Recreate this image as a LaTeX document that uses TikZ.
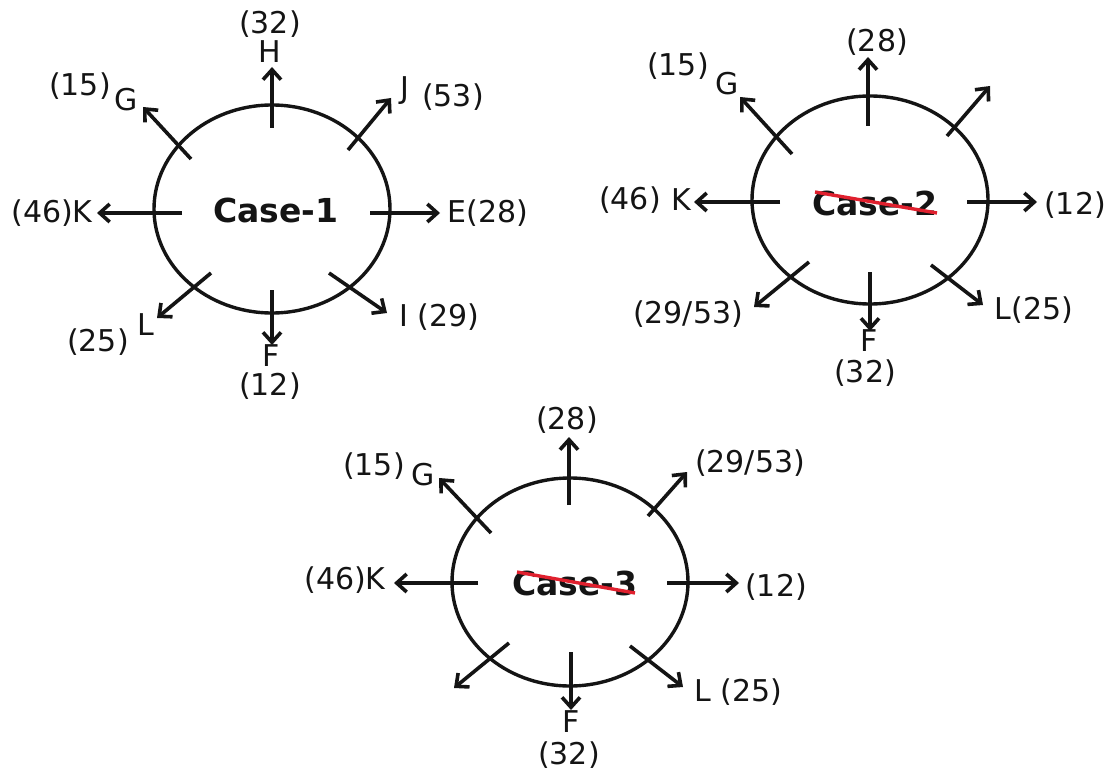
\documentclass[tikz,border=0pt]{standalone}
\usepackage{fontspec}
\setmainfont{DejaVu Sans}
\usetikzlibrary{arrows.meta,shapes.geometric}
\definecolor{ink}{HTML}{141414}
\definecolor{strike}{HTML}{E0202E}
\tikzset{
  ring/.style={draw=ink, line width=3.4pt, ellipse, inner sep=0pt, minimum width=236pt, minimum height=208pt},
  ray/.style={draw=ink, line width=3.6pt, -{Straight Barb[length=10pt,width=18pt]}},
  lbl/.style={text=ink, font=\fontsize{30}{35}\selectfont, inner sep=0pt},
  casetxt/.style={text=ink, font=\fontsize{33}{38}\selectfont\bfseries, inner sep=0pt},
  cross/.style={draw=strike, line width=3.4pt},
}
\begin{document}
\begin{tikzpicture}[x=1pt,y=-1pt]
\useasboundingbox (0,0) rectangle (1115,770);

% ---------------- Case 1 ----------------
\node[ring] (c1) at (272,209) {};
\node[casetxt] (c1t) at (276,210) {Case-1};
\coordinate (a1Gs) at (191,159); \coordinate (a1Ge) at (143,107);
\coordinate (a1Hs) at (272,128); \coordinate (a1He) at (272,67);
\coordinate (a1Js) at (348,150); \coordinate (a1Je) at (391,98);
\coordinate (a1Ks) at (182,213); \coordinate (a1Ke) at (97,213);
\coordinate (a1Es) at (370,213); \coordinate (a1Ee) at (440,213);
\coordinate (a1Ls) at (211,273); \coordinate (a1Le) at (157,318);
\coordinate (a1Fs) at (272,290); \coordinate (a1Fe) at (272,345);
\coordinate (a1Is) at (329,273); \coordinate (a1Ie) at (387,313);
\foreach \k in {G,H,J,K,E,L,F,I} \draw[ray] (a1\k s) -- (a1\k e);
\node[lbl] (l1H1) at (270,24) {(32)};
\node[lbl] (l1H2) at (270,52) {H};
\node[lbl] (l1G1) at (80,86) {(15)};
\node[lbl] (l1G2) at (126,100) {G};
\node[lbl] (l1J1) at (405,91) {J};
\node[lbl] (l1J2) at (453,97) {(53)};
\node[lbl] (l1K) at (52,213) {(46)K};
\node[lbl] (l1E) at (488,213) {E(28)};
\node[lbl] (l1L1) at (98,342) {(25)};
\node[lbl] (l1L2) at (146,325) {L};
\node[lbl] (l1F1) at (271,356) {F};
\node[lbl] (l1F2) at (270,386) {(12)};
\node[lbl] (l1I) at (439,317) {I (29)};

% ---------------- Case 2 ----------------
\node[ring] (c2) at (870,200) {};
\node[casetxt] (c2t) at (875,203) {Case-2};
\coordinate (x2s) at (815,192); \coordinate (x2e) at (937,213);
\draw[cross] (x2s) -- (x2e);
\coordinate (a2Ts) at (868,126); \coordinate (a2Te) at (868,57);
\coordinate (a2Gs) at (792,154); \coordinate (a2Ge) at (740,97);
\coordinate (a2Ns) at (947,136); \coordinate (a2Ne) at (990,86);
\coordinate (a2Ks) at (780,202); \coordinate (a2Ke) at (694,202);
\coordinate (a2Es) at (967,202); \coordinate (a2Ee) at (1037,202);
\coordinate (a2Ws) at (809,262); \coordinate (a2We) at (754,307);
\coordinate (a2Fs) at (870,272); \coordinate (a2Fe) at (870,331);
\coordinate (a2Ls) at (931,265); \coordinate (a2Le) at (983,305);
\foreach \k in {T,G,N,K,E,W,F,L} \draw[ray] (a2\k s) -- (a2\k e);
\node[lbl] (l2T) at (877,42) {(28)};
\node[lbl] (l2G1) at (678,66) {(15)};
\node[lbl] (l2G2) at (727,84) {G};
\node[lbl] (l2K1) at (630,200) {(46)};
\node[lbl] (l2K2) at (681,200) {K};
\node[lbl] (l2E) at (1075,205) {(12)};
\node[lbl] (l2W) at (688,314) {(29/53)};
\node[lbl] (l2F1) at (869,341) {F};
\node[lbl] (l2F2) at (865,373) {(32)};
\node[lbl] (l2L) at (1034,310) {L(25)};

% ---------------- Case 3 ----------------
\node[ring] (c3) at (570,582) {};
\node[casetxt] (c3t) at (575,583) {Case-3};
\coordinate (x3s) at (517,572); \coordinate (x3e) at (635,593);
\draw[cross] (x3s) -- (x3e);
\coordinate (a3Ts) at (569,505); \coordinate (a3Te) at (569,437);
\coordinate (a3Gs) at (491,533); \coordinate (a3Ge) at (439,478);
\coordinate (a3Ns) at (648,516); \coordinate (a3Ne) at (687,472);
\coordinate (a3Ks) at (478,583); \coordinate (a3Ke) at (394,583);
\coordinate (a3Es) at (667,583); \coordinate (a3Ee) at (739,583);
\coordinate (a3Ws) at (509,643); \coordinate (a3We) at (454,688);
\coordinate (a3Fs) at (571,652); \coordinate (a3Fe) at (571,710);
\coordinate (a3Ls) at (630,646); \coordinate (a3Le) at (683,687);
\foreach \k in {T,G,N,K,E,W,F,L} \draw[ray] (a3\k s) -- (a3\k e);
\node[lbl] (l3T) at (567,420) {(28)};
\node[lbl] (l3G1) at (374,466) {(15)};
\node[lbl] (l3G2) at (423,475) {G};
\node[lbl] (l3N) at (750,463) {(29/53)};
\node[lbl] (l3K) at (345,580) {(46)K};
\node[lbl] (l3E) at (776,587) {(12)};
\node[lbl] (l3F1) at (571,722) {F};
\node[lbl] (l3F2) at (569,755) {(32)};
\node[lbl] (l3L) at (738,692) {L (25)};
\end{tikzpicture}
\end{document}
